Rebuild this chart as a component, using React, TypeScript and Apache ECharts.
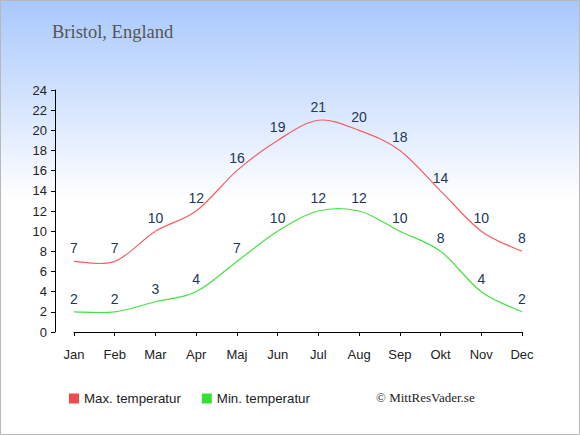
import React, { useEffect, useRef } from "react";
import * as echarts from "echarts";

const months = ["Jan", "Feb", "Mar", "Apr", "Maj", "Jun", "Jul", "Aug", "Sep", "Okt", "Nov", "Dec"];
const maxTemp = [7, 7, 10, 12, 16, 19, 21, 20, 18, 14, 10, 8];
const minTemp = [2, 2, 3, 4, 7, 10, 12, 12, 10, 8, 4, 2];
const seriesNames = ["Max. temperatur", "Min. temperatur"];
const title = "Bristol, England";
const credit = "© MittResVader.se";

const FONT = "Liberation Sans, Arial, sans-serif";

function splineSeries(id: string, name: string, values: number[], color: string) {
  return {
    id,
    name,
    type: "custom",
    silent: true,
    data: values.map((v, i) => [i, v]),
    encode: { x: 0, y: 1 },
    renderItem: (params: any, api: any) => {
      const i = params.dataIndex;
      const n = values.length;
      if (i >= n - 1) return null;
      const pt = (k: number) => {
        const kk = Math.max(0, Math.min(n - 1, k));
        return api.coord([kk, values[kk]]);
      };
      const p0 = pt(i - 1);
      const p1 = pt(i);
      const p2 = pt(i + 1);
      const p3 = pt(i + 2);
      const t = 1 / 6;
      return {
        type: "bezierCurve",
        shape: {
          x1: p1[0],
          y1: p1[1],
          x2: p2[0],
          y2: p2[1],
          cpx1: p1[0] + (p2[0] - p0[0]) * t,
          cpy1: p1[1] + (p2[1] - p0[1]) * t,
          cpx2: p2[0] - (p3[0] - p1[0]) * t,
          cpy2: p2[1] - (p3[1] - p1[1]) * t,
        },
        style: { stroke: color, lineWidth: 1.2, fill: "none" },
      };
    },
  };
}

export default function App() {
  const ref = useRef<HTMLDivElement>(null);
  useEffect(() => {
    if (!ref.current) return;
    const chart = echarts.init(ref.current, null, { renderer: "svg" });
    const labelStyle = {
      show: true,
      position: "top" as const,
      distance: 6,
      color: "#22375a",
      fontSize: 14,
      fontFamily: FONT,
    };
    chart.setOption({
      animation: false,
      backgroundColor: new echarts.graphic.LinearGradient(0, 0, 0, 1, [
        { offset: 0, color: "#a8c8fc" },
        { offset: 0.46, color: "#ffffff" },
        { offset: 1, color: "#ffffff" },
      ]),
      grid: { left: 74, right: 58, top: 90, bottom: 103 },
      legend: {
        left: 69,
        top: 392,
        padding: 0,
        icon: "rect",
        itemWidth: 10,
        itemHeight: 10,
        itemGap: 21,
        textStyle: { color: "#222", fontSize: 13.3, fontFamily: FONT },
        data: seriesNames,
      },
      xAxis: {
        type: "category",
        data: months,
        boundaryGap: false,
        offset: 10,
        axisLine: { lineStyle: { color: "#000", width: 1 } },
        axisTick: { length: 4, alignWithLabel: true, lineStyle: { color: "#000" } },
        axisLabel: { color: "#222", fontSize: 13, margin: 6, fontFamily: FONT },
        splitLine: { show: false },
      },
      yAxis: {
        type: "value",
        min: 0,
        max: 24,
        interval: 2,
        offset: 19,
        axisLine: { show: true, lineStyle: { color: "#000", width: 1 } },
        axisTick: { show: true, length: 4, lineStyle: { color: "#000" } },
        axisLabel: { color: "#222", fontSize: 13, margin: 8, fontFamily: FONT },
        splitLine: { show: false },
      },
      series: [
        {
          name: seriesNames[0],
          type: "line",
          data: maxTemp,
          symbol: "circle",
          symbolSize: 0.01,
          showSymbol: true,
          color: "#f24a4a",
          itemStyle: { color: "#f24a4a" },
          lineStyle: { opacity: 0, width: 0 },
          label: labelStyle,
          silent: true,
        },
        {
          name: seriesNames[1],
          type: "line",
          data: minTemp,
          symbol: "circle",
          symbolSize: 0.01,
          showSymbol: true,
          color: "#33e033",
          itemStyle: { color: "#33e033" },
          lineStyle: { opacity: 0, width: 0 },
          label: labelStyle,
          silent: true,
        },
        splineSeries("maxCurve", seriesNames[0], maxTemp, "#f26060"),
        splineSeries("minCurve", seriesNames[1], minTemp, "#44e044"),
      ],
      graphic: [
        {
          type: "text",
          left: 52,
          top: 22,
          style: { text: title, fill: "#555", fontSize: 18.5, fontFamily: "Liberation Serif, Georgia, serif" },
        },
        {
          type: "text",
          left: 376,
          top: 391,
          style: { text: credit, fill: "#222", fontSize: 13, fontFamily: "Liberation Serif, Georgia, serif" },
        },
        {
          type: "rect",
          shape: { x: 0.5, y: 0.5, width: 579, height: 434 },
          style: { fill: "none", stroke: "#b8b8b8", lineWidth: 1 },
          silent: true,
        },
      ],
    });
    return () => chart.dispose();
  }, []);
  return (
    <div
      ref={ref}
      style={{ width: 580, height: 435, position: "absolute", left: 0, top: 0 }}
    />
  );
}
